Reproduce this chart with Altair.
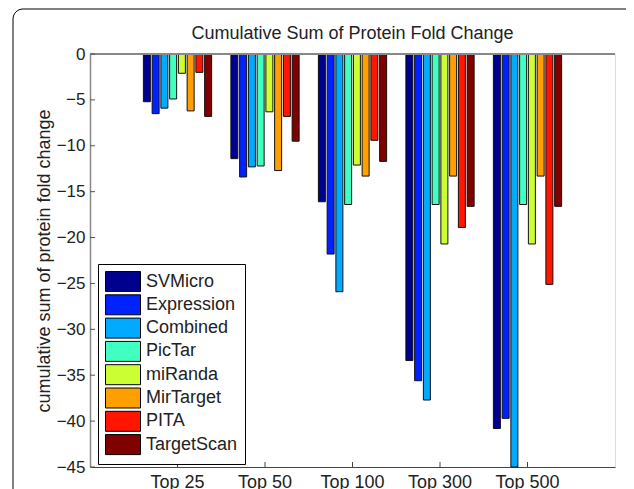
import altair as alt
import pandas as pd

groups = ["Top 25", "Top 50", "Top 100", "Top 300", "Top 500"]
methods = ["SVMicro", "Expression", "Combined", "PicTar", "miRanda", "MirTarget", "PITA", "TargetScan"]

svmicro = [-5.2, -11.4, -16.1, -33.4, -40.8]
expression = [-6.5, -13.4, -21.8, -35.6, -39.7]
combined = [-5.9, -12.3, -25.9, -37.7, -45.0]
pictar = [-4.9, -12.2, -16.4, -16.4, -16.4]
miranda = [-2.1, -6.3, -12.1, -20.7, -20.7]
mirtarget = [-6.2, -12.7, -13.3, -13.3, -13.3]
pita = [-2.0, -6.8, -9.4, -18.9, -25.1]
targetscan = [-6.8, -9.5, -11.7, -16.6, -16.6]

colors = ["#00008F", "#0022FF", "#00AAFF", "#40FFC0", "#CCFF33", "#FFA000", "#FF1500", "#800000"]
y_ticks = [0, -5, -10, -15, -20, -25, -30, -35, -40, -45]
title_text = ["Cumulative Sum of Protein Fold Change"]
y_title = "cumulative sum of protein fold change"

series = [svmicro, expression, combined, pictar, miranda, mirtarget, pita, targetscan]
rows = []
for m, vals in zip(methods, series):
    for g, v in zip(groups, vals):
        rows.append({"group": g, "method": m, "value": v})
df = pd.DataFrame(rows)
ticks_df = pd.DataFrame({"tick": y_ticks})
groups_df = pd.DataFrame({"group": groups})
one_df = pd.DataFrame({"a": [0]})
title_df = pd.DataFrame({"t": title_text})

FONT = "Liberation Sans"
TXT = "#222222"

x_axis = alt.Axis(
    title=None, labelAngle=0, ticks=False, domainColor="#444", domainWidth=1,
    labelFontSize=18, labelColor=TXT, labelPadding=6, labelFont=FONT,
)
x_scale = alt.Scale(domain=groups, paddingInner=0.2, paddingOuter=0.6)
x_enc = alt.X("group:N", sort=groups, scale=x_scale, axis=x_axis)

y_scale = alt.Scale(domain=[-45, 0], nice=False)
y_axis = alt.Axis(
    title=y_title, values=y_ticks, ticks=False,
    domainColor="#888", domainWidth=1.5, grid=False,
    labelFontSize=17, labelColor=TXT, labelFont=FONT, labelPadding=5,
    titleFontSize=18, titleFontWeight="normal", titleColor=TXT, titleFont=FONT,
    titlePadding=3,
)

border = alt.Chart(one_df).mark_rect(
    fill="white", fillOpacity=0, stroke="black", strokeWidth=1, cornerRadius=10
).encode(
    x=alt.value(-77), x2=alt.value(546), y=alt.value(-45), y2=alt.value(470)
)

title_mark = alt.Chart(title_df).mark_text(
    font=FONT, fontSize=18, color=TXT, baseline="middle", align="center"
).encode(
    text="t:N", x=alt.value(262.5), y=alt.value(-20)
)

bars = alt.Chart(df).mark_bar(stroke="#111", strokeWidth=1).encode(
    x=x_enc,
    xOffset=alt.XOffset("method:N", sort=methods, scale=alt.Scale(domain=methods, paddingInner=0.2, paddingOuter=0.1)),
    y=alt.Y("value:Q", scale=y_scale, axis=y_axis),
    color=alt.Color(
        "method:N",
        sort=methods,
        scale=alt.Scale(domain=methods, range=colors),
        legend=alt.Legend(
            title=None, orient="none", legendX=8, legendY=210,
            symbolType="M-1,-1H2.5V1H-1Z", symbolSize=400,
            symbolStrokeColor="black", symbolStrokeWidth=1, symbolOpacity=1,
            labelFontSize=18, labelFont=FONT, labelColor=TXT, labelOffset=20,
            rowPadding=-1.7, padding=7, strokeColor="black", fillColor="white",
            labelLimit=200,
        ),
    ),
)

zero_line = alt.Chart(one_df).mark_rule(color="#888", strokeWidth=2).encode(
    y=alt.datum(0, scale=y_scale, axis=y_axis)
)

yticks = alt.Chart(ticks_df).mark_rule(color="#555", strokeWidth=1).encode(
    y=alt.Y("tick:Q", scale=y_scale, axis=y_axis),
    x=alt.value(0), x2=alt.value(5),
)

xticks = alt.Chart(groups_df).mark_rule(color="#444", strokeWidth=1).encode(
    x=x_enc,
    y=alt.value(413), y2=alt.value(408),
)

chart = alt.layer(border, title_mark, bars, zero_line, yticks, xticks).properties(
    width=525,
    height=413,
    autosize=alt.AutoSizeParams(type="none"),
    padding={"left": 82, "top": 46, "right": 11, "bottom": 22},
).configure_view(stroke=None).configure(font=FONT)

chart.save("out.html", embed_options={"renderer": "svg", "actions": False})
